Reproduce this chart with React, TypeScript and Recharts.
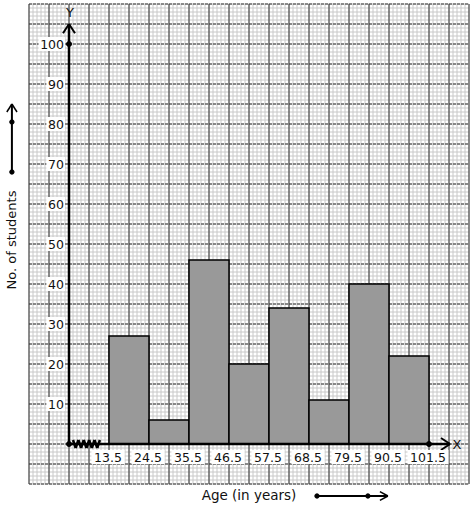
import { CartesianGrid, ComposedChart, ReferenceArea, ReferenceDot, ReferenceLine, XAxis, YAxis } from "recharts";

// class boundaries (ages) and frequencies
const classLower = [13.5, 24.5, 35.5, 46.5, 57.5, 68.5, 79.5, 90.5];
const classUpper = [24.5, 35.5, 46.5, 57.5, 68.5, 79.5, 90.5, 101.5];
const students = [27, 6, 46, 20, 34, 11, 40, 22];
const xTicks = [13.5, 24.5, 35.5, 46.5, 57.5, 68.5, 79.5, 90.5, 101.5];
const yTicks = [10, 20, 30, 40, 50, 60, 70, 80, 90, 100];

const W = 474;
const H = 510;
const M = { top: 4, left: 29, right: 5, bottom: 26 };
const FONT = "'DejaVu Sans', sans-serif";

// y axis is drawn at this age position (graph kink between 0 and 13.5)
const AXIS_X = 2.5;

const bars = classLower.map((lo, i) => ({ lo, hi: classUpper[i], n: students[i] }));

// graph paper, 4px per small square, 20px per big square
const range = (n: number, start: number, step: number) => Array.from({ length: n }, (_, i) => start + i * step);
const minorV = range(111, M.left, 4);
const minorH = range(121, M.top, 4);
const majorV = range(23, M.left, 20);
const majorH = range(25, M.top, 20);

const numLabel = (text: string, side: "left" | "below") => (props: any) => {
  const vb = props.viewBox ?? {};
  const cx = vb.x + (vb.width ?? 0) / 2;
  const cy = vb.y + (vb.height ?? 0) / 2;
  const w = text.length * 7.8 + 2;
  if (side === "left") {
    const right = cx - 5;
    return (
      <g>
        <rect x={right - w} y={cy - 7} width={w + 1} height={14} fill="#fff" />
        <text x={right} y={cy} textAnchor="end" dominantBaseline="central" fontSize={12.5} fontFamily={FONT} fill="#111">
          {text}
        </text>
      </g>
    );
  }
  return (
    <g>
      <rect x={cx - w / 2 - 1} y={cy + 6} width={w} height={14} fill="#fff" />
      <text x={cx - 1} y={cy + 13} textAnchor="middle" dominantBaseline="central" fontSize={12.5} fontFamily={FONT} fill="#111">
        {text}
      </text>
    </g>
  );
};

const plainLabel = (text: string, rotate = false, size = 13) => (props: any) => {
  const vb = props.viewBox ?? {};
  const cx = vb.x + (vb.width ?? 0) / 2;
  const cy = vb.y + (vb.height ?? 0) / 2;
  return (
    <text
      x={cx}
      y={cy}
      textAnchor="middle"
      dominantBaseline="central"
      fontSize={size}
      fontFamily={FONT}
      fill="#111"
      transform={rotate ? `rotate(-90 ${cx} ${cy})` : undefined}
    >
      {text}
    </text>
  );
};

// kink on the x axis between origin and 13.5
const zig = range(11, 3.6, 0.74).map((x, i) => ({ x, y: i % 2 === 0 ? 1 : -1 }));

const seg = (x1: number, y1: number, x2: number, y2: number, key: string, w = 2) => (
  <ReferenceLine
    key={key}
    segment={[
      { x: x1, y: y1 },
      { x: x2, y: y2 },
    ]}
    stroke="#000"
    strokeWidth={w}
    ifOverflow="visible"
  />
);

export default function App() {
  return (
    <div style={{ position: "absolute", left: 0, top: 0, width: W, height: H, background: "#fff", fontFamily: FONT }}>
      <ComposedChart width={W} height={H} data={bars} margin={M}>
        <XAxis type="number" dataKey="lo" domain={[-8.5, 112.5]} allowDataOverflow hide />
        <YAxis type="number" domain={[-10, 110]} allowDataOverflow hide />
        <CartesianGrid horizontalPoints={minorH} verticalPoints={minorV} stroke="#c8c8c8" strokeWidth={1} />
        <CartesianGrid horizontal={false} verticalPoints={majorV} stroke="#333" strokeWidth={1} />
        <CartesianGrid vertical={false} horizontalPoints={majorH} stroke="#333" strokeWidth={1} strokeDasharray="3 1" />

        {bars.map((b) => (
          <ReferenceArea
            key={b.lo}
            x1={b.lo}
            x2={b.hi}
            y1={0}
            y2={b.n}
            fill="#999999"
            fillOpacity={1}
            stroke="#000"
            strokeWidth={1.5}
          />
        ))}

        {/* y axis with arrow */}
        {seg(AXIS_X, 0, AXIS_X, 105, "yaxis", 2.5)}
        {seg(AXIS_X - 1.65, 102.7, AXIS_X, 105, "ya1")}
        {seg(AXIS_X + 1.65, 102.7, AXIS_X, 105, "ya2")}
        {/* x axis with arrow */}
        {seg(AXIS_X, 0, 107.3, 0, "xaxis", 2.5)}
        {seg(104.8, 1.5, 107.3, 0, "xa1")}
        {seg(104.8, -1.5, 107.3, 0, "xa2")}
        {zig.slice(1).map((p, i) => seg(zig[i].x, zig[i].y, p.x, p.y, `z${i}`, 2.5))}

        <ReferenceDot x={AXIS_X} y={0} r={2.5} fill="#000" stroke="#000" />
        <ReferenceDot x={AXIS_X} y={100} r={2.5} fill="#000" stroke="#000" />
        <ReferenceDot x={101.5} y={0} r={2.5} fill="#000" stroke="#000" />

        {yTicks.map((v) => (
          <ReferenceDot key={`yt${v}`} x={AXIS_X} y={v} r={0} fill="none" stroke="none" label={numLabel(String(v), "left")} />
        ))}
        {xTicks.map((v) => (
          <ReferenceDot key={`xt${v}`} x={v} y={0} r={0} fill="none" stroke="none" label={numLabel(String(v), "below")} />
        ))}
        <ReferenceDot x={AXIS_X + 0.3} y={108} r={0} fill="none" stroke="none" label={plainLabel("Y")} />
        <ReferenceDot x={109.2} y={0} r={0} fill="none" stroke="none" label={plainLabel("X")} />

        {/* axis titles with their arrows */}
        <ReferenceDot x={-13.2} y={51} r={0} fill="none" stroke="none" ifOverflow="visible" label={plainLabel("No. of students", true)} />
        {seg(-13.2, 68, -13.2, 85, "la")}
        {seg(-14.6, 83, -13.2, 85, "la1", 1.5)}
        {seg(-11.8, 83, -13.2, 85, "la2", 1.5)}
        <ReferenceDot x={-13.2} y={80.5} r={2.2} fill="#000" stroke="#000" ifOverflow="visible" />
        <ReferenceDot x={-13.2} y={68} r={2.2} fill="#000" stroke="#000" ifOverflow="visible" />

        <ReferenceDot x={52} y={-12.8} r={0} fill="none" stroke="none" ifOverflow="visible" label={plainLabel("Age (in years)", false, 13.5)} />
        {seg(70.7, -13, 90.2, -13, "ba")}
        {seg(88.0, -11.9, 90.2, -13, "ba1", 1.5)}
        {seg(88.0, -14.1, 90.2, -13, "ba2", 1.5)}
        <ReferenceDot x={70.7} y={-13} r={2.2} fill="#000" stroke="#000" ifOverflow="visible" />
        <ReferenceDot x={84.7} y={-13} r={2.2} fill="#000" stroke="#000" ifOverflow="visible" />
      </ComposedChart>
    </div>
  );
}
